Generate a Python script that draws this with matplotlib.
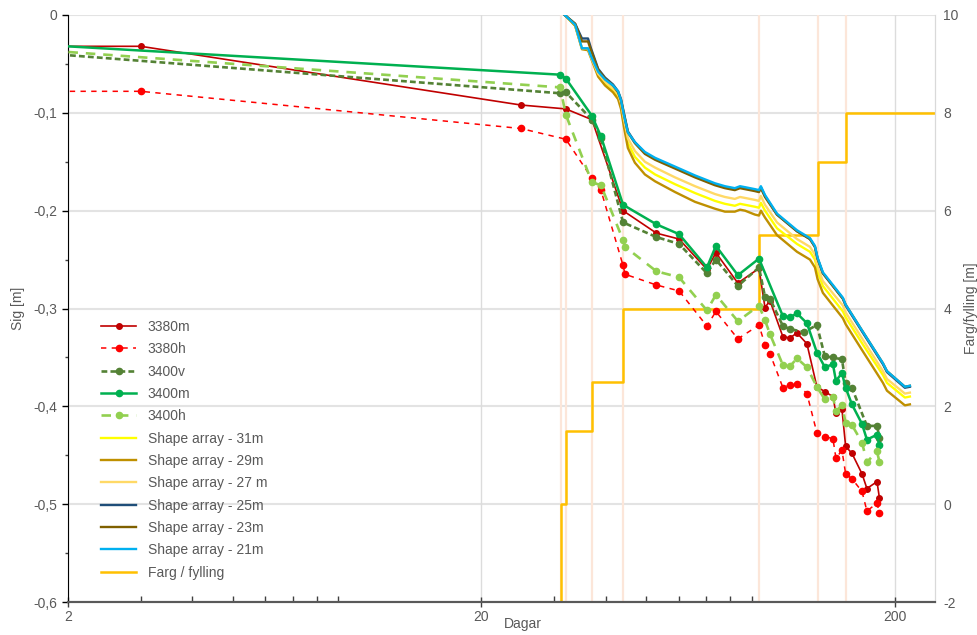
import matplotlib
matplotlib.use("Agg")
import matplotlib.pyplot as plt
from matplotlib.ticker import FixedLocator, FuncFormatter, LogLocator, NullFormatter, MultipleLocator

plt.rcParams['font.family'] = ['Liberation Sans', 'DejaVu Sans']

# ---------------- data ----------------
s3380m_days = [1.5, 3.0, 24.9, 32.0, 37.0, 44.0, 53.0, 60.1, 70.2, 73.8, 83.4, 93.8, 97.0, 99.7, 107.2, 111.5,
               115.9, 122.5, 129.5, 135.4, 141.6, 144.0, 148.9, 152.0, 157.4, 166.5, 171.1, 181.0, 183.5]
s3380m_vals = [-0.032, -0.032, -0.092, -0.096, -0.107, -0.200, -0.223, -0.229, -0.260, -0.243, -0.274, -0.259,
               -0.299, -0.292, -0.329, -0.330, -0.325, -0.336, -0.380, -0.385, -0.390, -0.407, -0.403, -0.441,
               -0.448, -0.469, -0.484, -0.477, -0.494]

s3380h_days = [1.5, 3.0, 24.9, 32.0, 37.0, 38.9, 44.0, 44.5, 53.0, 60.1, 70.2, 73.8, 83.4, 93.8, 97.0, 99.7,
               107.2, 111.5, 115.9, 122.5, 129.5, 135.4, 141.6, 144.0, 148.9, 152.0, 157.4, 166.5, 171.1, 181.0, 183.5]
s3380h_vals = [-0.078, -0.078, -0.116, -0.127, -0.167, -0.179, -0.256, -0.265, -0.276, -0.282, -0.318, -0.303,
               -0.331, -0.317, -0.337, -0.346, -0.381, -0.378, -0.377, -0.387, -0.427, -0.431, -0.433, -0.453,
               -0.445, -0.469, -0.474, -0.487, -0.507, -0.499, -0.509]

s3400v_days = [1.5, 31.0, 32.0, 37.0, 38.9, 44.0, 53.0, 60.1, 70.2, 73.8, 83.4, 93.8, 97.0, 99.7, 107.2, 111.5,
               120.5, 129.5, 135.4, 141.6, 148.9, 152.0, 157.4, 171.1, 181.0, 183.5]
s3400v_vals = [-0.037, -0.080, -0.079, -0.107, -0.126, -0.212, -0.227, -0.234, -0.264, -0.250, -0.277, -0.258,
               -0.288, -0.290, -0.318, -0.321, -0.324, -0.317, -0.349, -0.350, -0.352, -0.376, -0.381, -0.420,
               -0.420, -0.432]

s3400m_days = [1.5, 31.0, 32.0, 37.0, 38.9, 44.0, 53.0, 60.1, 70.2, 73.8, 83.4, 93.8, 107.2, 111.5, 115.9, 122.5,
               129.5, 135.4, 141.6, 144.0, 148.9, 152.0, 157.4, 166.5, 171.1, 181.0, 183.5]
s3400m_vals = [-0.029, -0.061, -0.065, -0.103, -0.124, -0.194, -0.214, -0.224, -0.258, -0.236, -0.266, -0.249,
               -0.308, -0.309, -0.305, -0.315, -0.345, -0.360, -0.357, -0.374, -0.366, -0.381, -0.398, -0.418,
               -0.434, -0.429, -0.440]

s3400h_days = [1.5, 31.0, 32.0, 37.0, 38.9, 44.0, 44.5, 53.0, 60.1, 70.2, 73.8, 83.4, 93.8, 97.0, 99.7, 107.2,
               111.5, 115.9, 122.5, 129.5, 135.4, 141.6, 144.0, 148.9, 152.0, 157.4, 166.5, 171.1, 181.0, 183.5]
s3400h_vals = [-0.034, -0.074, -0.102, -0.171, -0.174, -0.230, -0.237, -0.262, -0.268, -0.302, -0.286, -0.313,
               -0.297, -0.312, -0.326, -0.358, -0.359, -0.351, -0.360, -0.380, -0.393, -0.390, -0.405, -0.399,
               -0.417, -0.419, -0.437, -0.457, -0.446, -0.457]

shape_days = [31.8, 33.7, 35.0, 36.2, 36.8, 38.3, 39.8, 41.6, 42.8, 43.5, 44.2, 45.2, 47.0, 49.7, 52.6, 58.8,
              65.7, 73.4, 77.6, 82.0, 84.4, 86.8, 91.7, 93.8, 94.8, 97.0, 103.7, 115.9, 124.6, 128.1, 130.0,
              133.9, 149.7, 152.0, 167.4, 187.1, 191.3, 211.4, 217.4]
shape_31m = [0.000, -0.011, -0.034, -0.035, -0.043, -0.061, -0.070, -0.077, -0.083, -0.093, -0.110, -0.131,
             -0.145, -0.156, -0.163, -0.173, -0.182, -0.190, -0.193, -0.195, -0.193, -0.194, -0.196, -0.197,
             -0.192, -0.200, -0.218, -0.234, -0.242, -0.250, -0.262, -0.277, -0.303, -0.309, -0.337, -0.368,
             -0.376, -0.391, -0.390]
shape_29m = [0.000, -0.011, -0.035, -0.036, -0.044, -0.063, -0.072, -0.079, -0.086, -0.096, -0.114, -0.136,
             -0.151, -0.163, -0.170, -0.181, -0.191, -0.198, -0.201, -0.201, -0.199, -0.200, -0.204, -0.205,
             -0.200, -0.207, -0.225, -0.242, -0.250, -0.258, -0.270, -0.284, -0.310, -0.316, -0.344, -0.376,
             -0.384, -0.399, -0.398]
shape_27m = [0.000, -0.010, -0.034, -0.034, -0.043, -0.060, -0.068, -0.075, -0.081, -0.090, -0.106, -0.126,
             -0.139, -0.150, -0.156, -0.166, -0.175, -0.183, -0.186, -0.188, -0.186, -0.187, -0.189, -0.190,
             -0.185, -0.194, -0.212, -0.229, -0.237, -0.245, -0.257, -0.272, -0.297, -0.304, -0.332, -0.364,
             -0.372, -0.387, -0.386]
shape_25m = [0.000, -0.009, -0.024, -0.024, -0.034, -0.055, -0.064, -0.071, -0.078, -0.086, -0.100, -0.119,
             -0.130, -0.141, -0.147, -0.156, -0.165, -0.173, -0.176, -0.178, -0.176, -0.177, -0.179, -0.180,
             -0.176, -0.185, -0.204, -0.221, -0.229, -0.237, -0.249, -0.264, -0.290, -0.297, -0.325, -0.357,
             -0.365, -0.381, -0.380]
shape_23m = [0.000, -0.009, -0.027, -0.027, -0.036, -0.056, -0.065, -0.072, -0.079, -0.087, -0.101, -0.120,
             -0.131, -0.142, -0.148, -0.157, -0.166, -0.174, -0.177, -0.179, -0.177, -0.178, -0.180, -0.181,
             -0.177, -0.186, -0.204, -0.221, -0.229, -0.237, -0.249, -0.264, -0.290, -0.296, -0.324, -0.356,
             -0.364, -0.380, -0.379]
shape_21m = [0.000, -0.010, -0.034, -0.034, -0.042, -0.058, -0.066, -0.072, -0.078, -0.087, -0.102, -0.120,
             -0.130, -0.140, -0.146, -0.155, -0.164, -0.172, -0.175, -0.177, -0.175, -0.176, -0.178, -0.179,
             -0.175, -0.184, -0.203, -0.220, -0.228, -0.236, -0.248, -0.263, -0.289, -0.296, -0.324, -0.356,
             -0.364, -0.380, -0.379]

farg_days = [31.1, 31.1, 32.0, 37.0, 44.0, 93.8, 130.0, 152.0, 250.0]
farg_vals = [-2.5, 0.0, 1.5, 2.5, 4.0, 5.5, 7.0, 8.0, 8.0]

event_days = [31.1, 32.0, 37.0, 44.0, 93.8, 130.0, 152.0]

x_ticks = [2, 20, 200]
y_ticks = [0, -0.1, -0.2, -0.3, -0.4, -0.5, -0.6]
y2_ticks = [10, 8, 6, 4, 2, 0, -2]

# ---------------- figure ----------------
TXT = '#595959'
fig = plt.figure(figsize=(9.78, 6.35), dpi=100)
ax = fig.add_axes([68/978, 33/635, (935-68)/978, (602-15)/635])
ax2 = ax.twinx()

ax.set_xscale('log')
ax.set_xlim(2, 250)
ax.set_ylim(-0.6, 0)
ax2.set_ylim(-2, 10)

# grid and event lines on the lower (right-scale) axes, below the fill line
for yv in y2_ticks:
    ax2.axhline(yv, color='#e3e3e3', lw=1.5, zorder=0)
for xv in x_ticks:
    ax2.axvline(xv, color='#dcdcdc', lw=1.0, zorder=0)
for xv in event_days:
    ax2.axvline(xv, color='#fce6d9', lw=1.6, zorder=0.5)

handles = []
h, = ax.plot(s3380m_days, s3380m_vals, color='#c00000', lw=1.2, marker='o', ms=4, label='3380m', zorder=3)
handles.append(h)
h, = ax.plot(s3380h_days, s3380h_vals, color='#ff0000', lw=1.1, ls=(0, (3.5, 3.5)), marker='o', ms=4.5,
             label='3380h', zorder=3)
handles.append(h)
h, = ax.plot(s3400v_days, s3400v_vals, color='#548235', lw=1.9, ls=(0, (2.2, 1.2)), marker='o', ms=4.5,
             label='3400v', zorder=3)
handles.append(h)
h, = ax.plot(s3400m_days, s3400m_vals, color='#00b050', lw=1.8, marker='o', ms=4.5, label='3400m', zorder=3)
handles.append(h)
h, = ax.plot(s3400h_days, s3400h_vals, color='#92d050', lw=1.9, ls=(0, (3.6, 3.0)), marker='o', ms=4.5,
             label='3400h', zorder=3)
handles.append(h)

shape_series = [
    (shape_31m, '#ffff00', 'Shape array - 31m'),
    (shape_29m, '#bf9000', 'Shape array - 29m'),
    (shape_27m, '#ffd966', 'Shape array - 27 m'),
    (shape_25m, '#1f4e79', 'Shape array - 25m'),
    (shape_23m, '#7f6000', 'Shape array - 23m'),
    (shape_21m, '#00b0f0', 'Shape array - 21m'),
]
for vals, col, lab in shape_series:
    h, = ax.plot(shape_days, vals, color=col, lw=1.7, label=lab, zorder=4)
    handles.append(h)

h, = ax2.plot(farg_days, farg_vals, color='#ffc000', lw=1.8, drawstyle='steps-post', label='Farg / fylling',
              zorder=2)
handles.append(h)

# axes styling
ax.xaxis.set_major_locator(FixedLocator(x_ticks))
ax.xaxis.set_major_formatter(FuncFormatter(lambda v, p: f'{v:g}'))
ax.xaxis.set_minor_locator(LogLocator(base=10, subs=range(2, 10), numticks=20))
ax.xaxis.set_minor_formatter(NullFormatter())
ax.yaxis.set_major_locator(FixedLocator(y_ticks))
ax.yaxis.set_minor_locator(MultipleLocator(0.05))
ax.yaxis.set_major_formatter(FuncFormatter(lambda v, p: ('0' if abs(v) < 1e-9 else f'{v:.1f}'.replace('.', ','))))
ax2.yaxis.set_major_locator(FixedLocator(y2_ticks))
ax2.yaxis.set_major_formatter(FuncFormatter(lambda v, p: f'{v:g}'))

ax.tick_params(axis='x', which='major', direction='inout', length=7, width=1, colors='#404040', labelsize=10,
               labelcolor=TXT, pad=2)
ax.tick_params(axis='x', which='minor', direction='in', length=4, width=1, colors='#404040')
ax.tick_params(axis='y', which='major', direction='out', length=4, width=1, colors='black', labelsize=10,
               labelcolor=TXT)
ax.tick_params(axis='y', which='minor', direction='out', length=2.5, width=1, colors='#404040')
ax2.tick_params(axis='y', length=0, labelsize=10, labelcolor=TXT, pad=6)

for a in (ax, ax2):
    a.spines['top'].set_visible(False)
    a.spines['right'].set_color('#d9d9d9')
    a.spines['left'].set_color('black')
    a.spines['bottom'].set_color('#595959')
    a.spines['bottom'].set_linewidth(1.5)
ax2.spines['left'].set_visible(False)

ax.set_ylabel('Sig [m]', color=TXT, fontsize=10)
ax.yaxis.set_label_coords(-0.05, 0.5)
ax2.set_ylabel('Farg/fylling [m]', color=TXT, fontsize=10)
ax2.yaxis.set_label_coords(1.033, 0.5)
ax.set_xlabel('Dagar', color=TXT, fontsize=10)
ax.xaxis.set_label_coords(0.525, -0.025)

ax.set_zorder(ax2.get_zorder() + 1)
ax.patch.set_visible(False)

leg = ax.legend(handles=handles, loc='upper left', bbox_to_anchor=(0.032, 0.49), frameon=False, fontsize=10,
                handlelength=2.5, handletextpad=0.85, labelspacing=0.6, borderaxespad=0)
for t in leg.get_texts():
    t.set_color(TXT)

fig.savefig('out.png', dpi=100)
